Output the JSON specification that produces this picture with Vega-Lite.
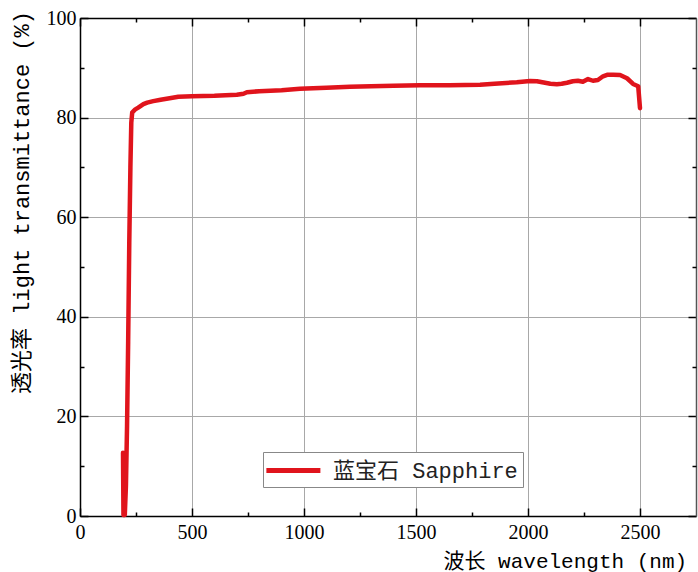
{
  "$schema": "https://vega.github.io/schema/vega-lite/v6.json",
  "autosize": "none",
  "width": 616,
  "height": 498,
  "padding": {"left": 80, "top": 18, "right": 2, "bottom": 56},
  "background": "white",
  "config": {"view": {"stroke": null}},
  "data": {"values": [
    {"wl": 192, "T": 12.7}, {"wl": 194, "T": 0.2}, {"wl": 200, "T": 0.2}, {"wl": 205, "T": 6},
    {"wl": 210, "T": 18}, {"wl": 215, "T": 35}, {"wl": 220, "T": 55}, {"wl": 225, "T": 70},
    {"wl": 229, "T": 79}, {"wl": 233, "T": 81}, {"wl": 245, "T": 81.6}, {"wl": 260, "T": 82},
    {"wl": 283, "T": 82.7}, {"wl": 300, "T": 83}, {"wl": 327, "T": 83.3}, {"wl": 360, "T": 83.6},
    {"wl": 400, "T": 83.9}, {"wl": 439, "T": 84.2}, {"wl": 500, "T": 84.3}, {"wl": 600, "T": 84.4},
    {"wl": 700, "T": 84.6}, {"wl": 730, "T": 84.8}, {"wl": 745, "T": 85.1}, {"wl": 800, "T": 85.3},
    {"wl": 900, "T": 85.5}, {"wl": 982, "T": 85.8}, {"wl": 1100, "T": 86.0}, {"wl": 1205, "T": 86.2},
    {"wl": 1300, "T": 86.3}, {"wl": 1400, "T": 86.4}, {"wl": 1518, "T": 86.5}, {"wl": 1650, "T": 86.5},
    {"wl": 1786, "T": 86.6}, {"wl": 1850, "T": 86.8}, {"wl": 1950, "T": 87.1}, {"wl": 2009, "T": 87.35},
    {"wl": 2040, "T": 87.3}, {"wl": 2076, "T": 87.0}, {"wl": 2100, "T": 86.8}, {"wl": 2129, "T": 86.7},
    {"wl": 2150, "T": 86.8}, {"wl": 2174, "T": 87.0}, {"wl": 2200, "T": 87.3}, {"wl": 2223, "T": 87.4},
    {"wl": 2245, "T": 87.2}, {"wl": 2268, "T": 87.75}, {"wl": 2290, "T": 87.4}, {"wl": 2312, "T": 87.55},
    {"wl": 2335, "T": 88.3}, {"wl": 2353, "T": 88.6}, {"wl": 2380, "T": 88.6}, {"wl": 2411, "T": 88.55},
    {"wl": 2442, "T": 87.9}, {"wl": 2469, "T": 86.75}, {"wl": 2492, "T": 86.3}, {"wl": 2500, "T": 81.9}
  ]},
  "resolve": {"axis": {"x": "independent", "y": "independent"}},
  "layer": [
    {
      "mark": {"type": "line", "strokeWidth": 4.5, "strokeJoin": "round", "strokeCap": "round"},
      "encoding": {
        "x": {"field": "wl", "type": "quantitative",
          "scale": {"domain": [0, 2750], "nice": false, "zero": false},
          "axis": {"orient": "bottom", "values": [0, 500, 1000, 1500, 2000, 2500], "format": "d",
            "title": "波长 wavelength (nm)", "titleFont": "Liberation Mono, Noto Sans CJK SC",
            "titleFontSize": 21, "titleFontWeight": "normal", "titleColor": "black",
            "titleAnchor": "start", "titleX": 363, "titleY": 51, "titleBaseline": "alphabetic",
            "labelFont": "Times New Roman, Liberation Serif, serif", "labelFontSize": 20, "labelColor": "black",
            "labelPadding": 14, "labelFlush": false,
            "tickSize": -8, "tickColor": "black", "tickWidth": 1.5,
            "domainColor": "black", "domainWidth": 1.5,
            "grid": true, "gridColor": "#a8a8a8", "gridWidth": 1}},
        "y": {"field": "T", "type": "quantitative",
          "scale": {"domain": [0, 100], "nice": false},
          "axis": {"orient": "left", "values": [0, 20, 40, 60, 80, 100], "format": "d",
            "title": "透光率 light transmittance (%)", "titleFont": "Liberation Mono, Noto Sans CJK SC",
            "titleFontSize": 22, "titleFontWeight": "normal", "titleColor": "black",
            "titleAngle": -90, "titleAlign": "center", "titleBaseline": "middle",
            "titleX": -59, "titleY": 184,
            "labelFont": "Times New Roman, Liberation Serif, serif", "labelFontSize": 20, "labelColor": "black",
            "labelPadding": 12, "labelFlush": false,
            "tickSize": -8, "tickColor": "black", "tickWidth": 1.5,
            "domainColor": "black", "domainWidth": 1.5,
            "grid": true, "gridColor": "#a8a8a8", "gridWidth": 1}},
        "color": {"datum": "蓝宝石 Sapphire", "type": "nominal",
          "scale": {"range": ["#e0141c"]},
          "legend": {"title": null, "orient": "none", "legendX": 183, "legendY": 434,
            "fillColor": "white", "strokeColor": "#888888", "padding": 5, "cornerRadius": 0,
            "symbolType": "M-1.4,0L3.6,0", "symbolSize": 467, "symbolStrokeWidth": 5,
            "symbolFillColor": "transparent",
            "labelFont": "Liberation Mono, Noto Sans CJK SC", "labelFontSize": 22,
            "labelColor": "#222", "labelOffset": 38, "labelLimit": 400}}
      }
    },
    {
      "mark": {"type": "point", "opacity": 0},
      "encoding": {
        "x": {"field": "wl", "type": "quantitative",
          "axis": {"orient": "bottom", "values": [250, 750, 1250, 1750, 2250], "labels": false,
            "title": null, "domain": false, "grid": false,
            "tickSize": -4, "tickColor": "black", "tickWidth": 1.5}},
        "y": {"field": "T", "type": "quantitative",
          "axis": {"orient": "left", "values": [10, 30, 50, 70, 90], "labels": false,
            "title": null, "domain": false, "grid": false,
            "tickSize": -4, "tickColor": "black", "tickWidth": 1.5}}
      }
    },
    {
      "mark": {"type": "point", "opacity": 0},
      "encoding": {
        "x": {"field": "wl", "type": "quantitative",
          "axis": {"orient": "top", "values": [0, 500, 1000, 1500, 2000, 2500], "labels": false,
            "title": null, "grid": false, "domainColor": "black", "domainWidth": 1.5,
            "tickSize": -8, "tickColor": "black", "tickWidth": 1.5}},
        "y": {"field": "T", "type": "quantitative",
          "axis": {"orient": "right", "values": [0, 20, 40, 60, 80, 100], "labels": false,
            "title": null, "grid": false, "domainColor": "#555555", "domainWidth": 1.5,
            "tickSize": -8, "tickColor": "black", "tickWidth": 1.5}}
      }
    },
    {
      "mark": {"type": "point", "opacity": 0},
      "encoding": {
        "x": {"field": "wl", "type": "quantitative",
          "axis": {"orient": "top", "values": [250, 750, 1250, 1750, 2250], "labels": false,
            "title": null, "domain": false, "grid": false,
            "tickSize": -4, "tickColor": "black", "tickWidth": 1.5}},
        "y": {"field": "T", "type": "quantitative",
          "axis": {"orient": "right", "values": [10, 30, 50, 70, 90], "labels": false,
            "title": null, "domain": false, "grid": false,
            "tickSize": -4, "tickColor": "black", "tickWidth": 1.5}}
      }
    }
  ]
}
